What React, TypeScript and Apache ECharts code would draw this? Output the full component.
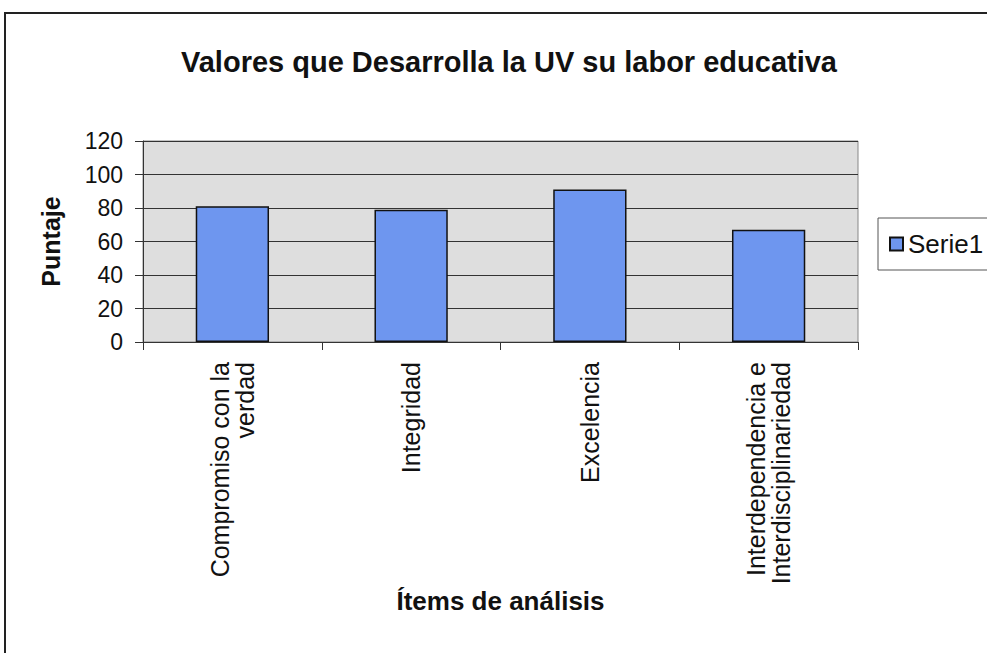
import React, { useEffect, useRef } from "react";
import * as echarts from "echarts";

const categories = [
  "Compromiso con la\nverdad",
  "Integridad",
  "Excelencia",
  "Interdependencia e\nInterdisciplinariedad",
];
const seriesName = "Serie1";
const values = [81, 79, 91, 67];
const yTicks = { min: 0, max: 120, interval: 20 };
const titleText = "Valores que Desarrolla la UV su labor educativa";
const xAxisTitle = "Ítems de análisis";
const yAxisTitle = "Puntaje";

export default function App() {
  const ref = useRef<HTMLDivElement>(null);
  useEffect(() => {
    if (!ref.current) return;
    const chart = echarts.init(ref.current, null, { renderer: "svg" });
    const sans = "'Liberation Sans', Arial, sans-serif";
    chart.setOption({
      animation: false,
      backgroundColor: "#ffffff",
      title: {
        text: titleText,
        left: 176,
        top: 42,
        textStyle: { fontFamily: sans, fontWeight: "bold", fontSize: 29, color: "#111" },
      },
      graphic: [
        {
          type: "rect",
          shape: { x: 5, y: 13, width: 1100, height: 800 },
          style: { fill: "none", stroke: "#222", lineWidth: 2 },
          silent: true,
        },
      ],
      legend: {
        left: 878,
        top: 218,
        orient: "vertical",
        icon: "rect",
        itemWidth: 13,
        itemHeight: 13,
        padding: [13, 40, 13, 11],
        borderColor: "#555",
        borderWidth: 1,
        textStyle: { fontFamily: sans, fontSize: 26, color: "#111" },
        data: [seriesName],
      },
      grid: { left: 143, top: 141, right: 129, bottom: 311, show: true, backgroundColor: "#dedede", borderColor: "#888", borderWidth: 1 },
      xAxis: {
        type: "category",
        data: categories,
        name: xAxisTitle,
        nameLocation: "middle",
        nameGap: 246,
        nameTextStyle: { fontFamily: sans, fontWeight: "bold", fontSize: 26, color: "#111" },
        axisLine: { lineStyle: { color: "#333", width: 1 } },
        axisTick: { show: true, length: 8, lineStyle: { color: "#333" } },
        axisLabel: {
          rotate: 90,
          interval: 0,
          margin: 20,
          fontFamily: sans,
          fontSize: 25,
          lineHeight: 25,
          color: "#111",
        },
      },
      yAxis: {
        type: "value",
        min: yTicks.min,
        max: yTicks.max,
        interval: yTicks.interval,
        name: yAxisTitle,
        nameLocation: "middle",
        nameRotate: 90,
        nameGap: 80,
        nameTextStyle: { fontFamily: sans, fontWeight: "bold", fontSize: 25, color: "#111" },
        axisLine: { show: true, lineStyle: { color: "#333", width: 1 } },
        axisTick: { show: true, length: 8, lineStyle: { color: "#333" } },
        axisLabel: { fontFamily: sans, fontSize: 23, color: "#111", margin: 20 },
        splitLine: { show: true, lineStyle: { color: "#333", width: 1 } },
      },
      series: [
        {
          name: seriesName,
          type: "bar",
          data: values,
          barWidth: "41%",
          itemStyle: { color: "#6e96ef", borderColor: "#111", borderWidth: 1.5 },
        },
      ],
    });
    return () => chart.dispose();
  }, []);
  return (
    <div
      ref={ref}
      style={{ position: "fixed", left: 0, top: 0, width: 987, height: 653, background: "#fff" }}
    />
  );
}
